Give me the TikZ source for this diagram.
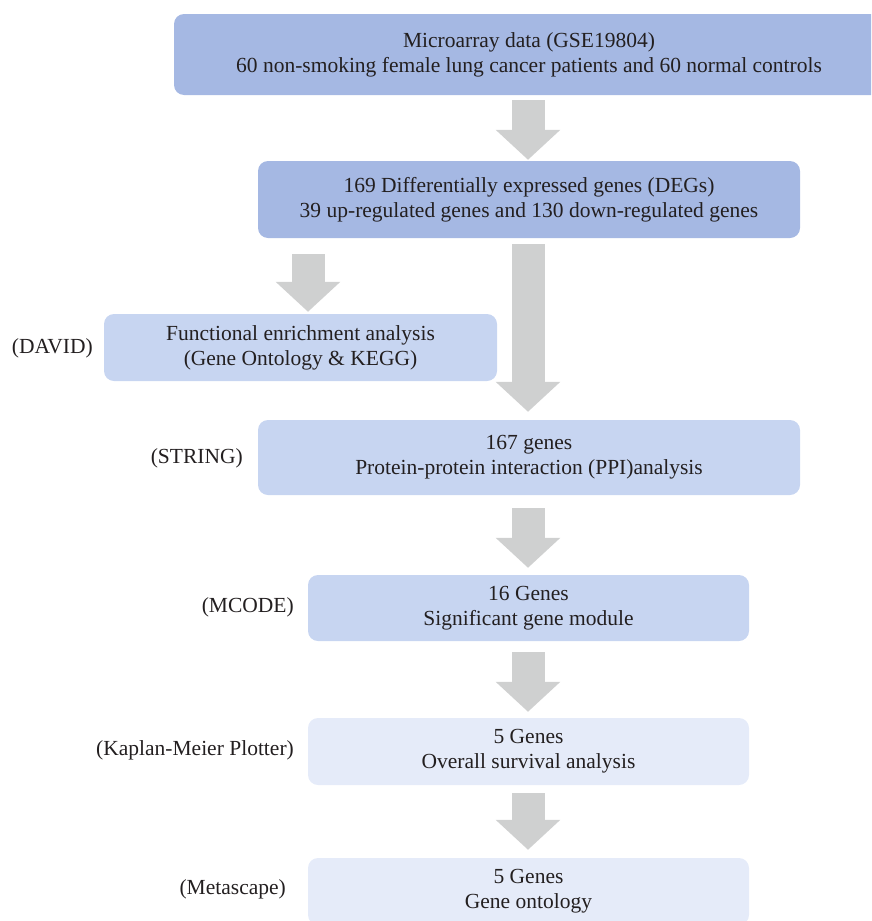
\documentclass[tikz,border=0pt]{standalone}
\usepackage{fontspec}
\setmainfont{Liberation Serif}
\usetikzlibrary{arrows.meta}
\definecolor{boxdark}{HTML}{A5B8E3}
\definecolor{boxmid}{HTML}{C7D5F1}
\definecolor{boxlight}{HTML}{E5EBF9}
\definecolor{arrowgray}{HTML}{CFD0D0}
\definecolor{txt}{HTML}{231F20}
\tikzset{
  stepbox/.style={rounded corners=10pt, inner sep=0pt, align=center, text=txt,
    font=\fontsize{21.5}{25}\selectfont},
  sidelabel/.style={anchor=east, inner sep=0pt, text=txt, font=\fontsize{21.5}{25}\selectfont},
  bigarrow/.style={draw=arrowgray, line width=33pt, -{Triangle[width=63pt,length=30pt]}},
}
\begin{document}
\begin{tikzpicture}[x=1pt,y=-1pt]
\useasboundingbox (0,0) rectangle (871,921);
\clip (0,0) rectangle (871,921);
\node[stepbox, fill=boxdark, minimum width=710pt, minimum height=81pt] (top) at (529,54.5)
  {Microarray data (GSE19804)\\60 non-smoking female lung cancer patients and 60 normal controls};
\node[stepbox, fill=boxdark, minimum width=542pt, minimum height=77pt] (deg) at (529,199.5)
  {169 Differentially expressed genes (DEGs)\\39 up-regulated genes and 130 down-regulated genes};
\node[stepbox, fill=boxmid, minimum width=393pt, minimum height=67pt] (func) at (300.5,347.5)
  {Functional enrichment analysis\\(Gene Ontology \& KEGG)};
\node[stepbox, fill=boxmid, minimum width=542pt, minimum height=75pt] (string) at (529,457.5)
  {167 genes\\Protein-protein interaction (PPI)analysis};
\node[stepbox, fill=boxmid, minimum width=441pt, minimum height=66pt] (mcode) at (528.5,608)
  {16 Genes\\Significant gene module};
\node[stepbox, fill=boxlight, minimum width=441pt, minimum height=67pt] (km) at (528.5,751.5)
  {5 Genes\\Overall survival analysis};
\node[stepbox, fill=boxlight, minimum width=441pt, minimum height=67pt] (meta) at (528.5,891.5)
  {5 Genes\\Gene ontology};

\node[sidelabel] (ldavid) at (93,348) {(DAVID)};
\node[sidelabel] (lstring) at (243,458) {(STRING)};
\node[sidelabel] (lmcode) at (294,607) {(MCODE)};
\node[sidelabel] (lkm) at (294,750) {(Kaplan-Meier Plotter)};
\node[sidelabel] (lmeta) at (286,889) {(Metascape)};

\coordinate (ax) at (528,0);
\coordinate (axl) at (308,0);
\draw[bigarrow, shorten <=5pt, shorten >=1pt] (top.south -| ax) -- (deg.north -| ax);
\draw[bigarrow, shorten <=16pt, shorten >=2pt] (deg.south -| axl) -- (func.north -| axl);
\draw[bigarrow, shorten <=6pt, shorten >=8pt] (deg.south -| ax) -- (string.north -| ax);
\draw[bigarrow, shorten <=13pt, shorten >=7pt] (string.south -| ax) -- (mcode.north -| ax);
\draw[bigarrow, shorten <=11pt, shorten >=6pt] (mcode.south -| ax) -- (km.north -| ax);
\draw[bigarrow, shorten <=8pt, shorten >=8pt] (km.south -| ax) -- (meta.north -| ax);
\end{tikzpicture}
\end{document}
